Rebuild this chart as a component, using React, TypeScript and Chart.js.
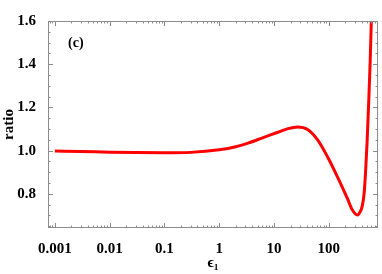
import React, { useEffect, useRef } from "react";
import { Chart, registerables } from "chart.js";

Chart.register(...registerables);

const epsValues = [0.001, 0.003, 0.01, 0.03, 0.1, 0.3, 1, 2, 3.35, 6, 11.7, 18, 27, 41, 62, 94, 143, 217, 268, 330, 370, 405, 440, 466, 500, 537, 570, 598, 660];
const ratioValues = [0.998, 0.996, 0.993, 0.991, 0.99, 0.992, 1.004, 1.018, 1.035, 1.058, 1.085, 1.102, 1.11, 1.098, 1.051, 0.973, 0.88, 0.78, 0.726, 0.702, 0.715, 0.741, 0.8, 0.89, 1.04, 1.237, 1.42, 1.61, 2.0];
const xTickLabels = ["0.001", "0.01", "0.1", "1", "10", "100"];
const yTickValues = [0.8, 1.0, 1.2, 1.4, 1.6];
const panelLabel = "(c)";
const xTitle = "ϵ₁";
const yTitle = "ratio";

const FONT = "'Liberation Serif', 'DejaVu Serif', serif";

const framePlugin = {
  id: "frameTicks",
  afterDatasetsDraw(chart: any) {
    const { ctx, chartArea: a, scales } = chart;
    const xs = scales.x;
    const ys = scales.y;
    ctx.save();
    ctx.strokeStyle = "#8c8c8c";
    ctx.lineWidth = 1;
    ctx.strokeRect(a.left + 0.5, a.top + 0.5, a.right - a.left - 1, a.bottom - a.top - 1);
    ctx.beginPath();
    for (let e = -4; e <= 3; e++) {
      for (let m = 1; m <= 9; m++) {
        const v = m * Math.pow(10, e);
        if (v < xs.min || v > xs.max) continue;
        const px = Math.round(xs.getPixelForValue(v)) + 0.5;
        const len = m === 1 ? 5 : 2.5;
        ctx.moveTo(px, a.bottom);
        ctx.lineTo(px, a.bottom - len);
        ctx.moveTo(px, a.top);
        ctx.lineTo(px, a.top + len);
      }
    }
    for (let i = 0; i <= 40; i++) {
      const v = Math.round((0.6 + i * 0.05) * 100) / 100;
      if (v < ys.min || v > ys.max) continue;
      const py = Math.round(ys.getPixelForValue(v)) + 0.5;
      const r = Math.round(v * 100) % 20;
      const len = r === 0 ? 5 : 2.5;
      ctx.moveTo(a.left, py);
      ctx.lineTo(a.left + len, py);
      ctx.moveTo(a.right, py);
      ctx.lineTo(a.right - len, py);
    }
    ctx.stroke();
    ctx.fillStyle = "#000";
    ctx.font = `bold 14px ${FONT}`;
    ctx.textAlign = "left";
    ctx.textBaseline = "middle";
    ctx.fillText(panelLabel, a.left + 20, a.top + 22);
    ctx.restore();
  },
};

export default function App() {
  const ref = useRef<HTMLCanvasElement | null>(null);
  useEffect(() => {
    if (!ref.current) return;
    const data = epsValues.map((x, i) => ({ x, y: ratioValues[i] }));
    const chart = new Chart(ref.current, {
      type: "line",
      data: {
        datasets: [
          {
            data,
            borderColor: "#ff0000",
            borderWidth: 3,
            pointRadius: 0,
            cubicInterpolationMode: "monotone",
            fill: false,
          },
        ],
      },
      options: {
        animation: false,
        responsive: false,
        layout: { padding: { top: 21, right: 1, left: 0, bottom: 0 } },
        plugins: { legend: { display: false }, tooltip: { enabled: false } },
        scales: {
          x: {
            type: "logarithmic",
            min: 0.00075,
            max: 790,
            grid: { display: false },
            border: { display: false },
            afterFit(scale: any) {
              scale.height = 46;
            },
            ticks: {
              autoSkip: false,
              maxRotation: 0,
              padding: 4,
              color: "#000",
              font: { family: FONT, size: 15, weight: "bold" },
              callback(value: any) {
                const v = Number(value);
                const e = Math.log10(v);
                if (Math.abs(e - Math.round(e)) < 1e-6) {
                  const idx = Math.round(e) + 3;
                  return xTickLabels[idx] ?? "";
                }
                return "";
              },
            },
            title: {
              display: true,
              text: xTitle,
              color: "#000",
              font: { family: FONT, size: 15, weight: "bold" },
              padding: { top: 0, bottom: 2 },
            },
          },
          y: {
            type: "linear",
            min: 0.642,
            max: 1.6,
            grid: { display: false },
            border: { display: false },
            afterFit(scale: any) {
              scale.width = 48;
            },
            afterBuildTicks(scale: any) {
              scale.ticks = yTickValues.map((v) => ({ value: v }));
            },
            ticks: {
              padding: 4,
              color: "#000",
              font: { family: FONT, size: 15, weight: "bold" },
              callback(value: any) {
                return Number(value).toFixed(1);
              },
            },
            title: {
              display: true,
              text: yTitle,
              color: "#000",
              font: { family: FONT, size: 15, weight: "bold" },
              padding: { top: 0, bottom: 3 },
            },
          },
        },
      },
      plugins: [framePlugin],
    } as any);
    return () => chart.destroy();
  }, []);
  return (
    <div style={{ position: "fixed", left: 0, top: 0, width: 382, height: 274 }}>
      <canvas ref={ref} width={382} height={274} />
    </div>
  );
}
